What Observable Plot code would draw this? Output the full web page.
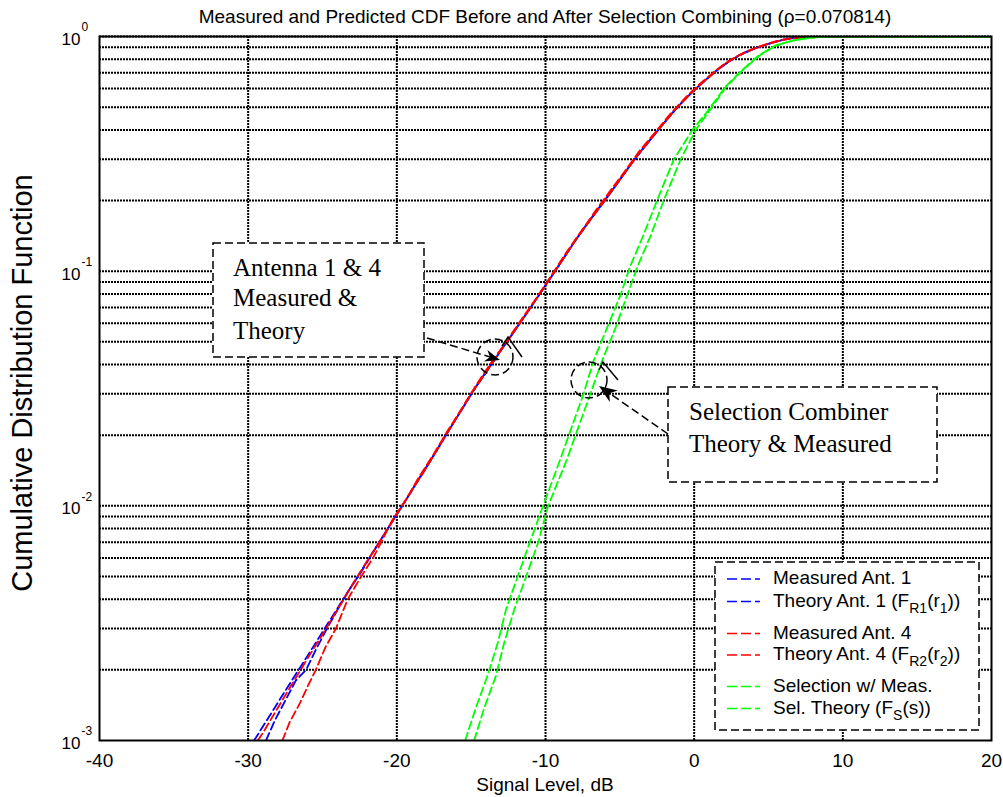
<!DOCTYPE html>
<html><head><meta charset="utf-8">
<script src="https://cdn.jsdelivr.net/npm/d3@7"></script>
<script src="https://cdn.jsdelivr.net/npm/@observablehq/plot@0.6"></script>
<style>body{margin:0;background:#fff} svg{display:block}</style>
</head><body><div id="chart"></div>
<script>
// ---------- text ----------
const titleText = "Measured and Predicted CDF Before and After Selection Combining (\u03C1=0.070814)";
const xLabel = "Signal Level, dB";
const yLabel = "Cumulative Distribution Function";

// ---------- ticks & grid ----------
const xTicks = [-40, -30, -20, -10, 0, 10, 20];
const xGrid = [-30, -20, -10, 0, 10];
const yDecades = [0.001, 0.01, 0.1, 1];
const yDecadeExp = ["-3", "-2", "-1", "0"];
const yGrid = [0.002,0.003,0.004,0.005,0.006,0.007,0.008,0.009,0.01,
               0.02,0.03,0.04,0.05,0.06,0.07,0.08,0.09,0.1,
               0.2,0.3,0.4,0.5,0.6,0.7,0.8,0.9,1];

// ---------- series (signal level dB, CDF) ----------
const meas1_dB  = [-28.8,-28.2,-27.5,-26.8,-26.1,-25.5,-24.7,-24,-23.3,-22.5,-21.5,-20.5,-19.5,-18.5,-17.5,-16.5,-15.5,-14.5,-13.5,-12.5,-11.5,-10.5,-9.5,-8.5,-7.5,-6.5,-5.5,-4.5,-3.5,-2.5,-1.5,-0.5,0.5,1.5,2.5,3.5,4.5,5.5,6.5,7.5,8.5,20];
const meas1_cdf = [0.001,0.00122,0.00148,0.0018,0.002,0.0024,0.003,0.0036,0.0043,0.0051,0.0065,0.0082,0.0103,0.0131,0.0165,0.021,0.0265,0.0335,0.0413,0.051,0.063,0.078,0.097,0.121,0.150,0.183,0.222,0.272,0.33,0.394,0.47,0.55,0.632,0.716,0.795,0.86,0.91,0.952,0.982,0.995,1,1];

const theory1_dB  = [-29.6,-29,-28,-27,-26,-25,-24,-23,-22,-21,-20,-19,-18,-17,-16,-15,-14,-13,-12,-11,-10,-9,-8,-7,-6,-5,-4,-3,-2,-1,0,1,2,3,4,5,6,7,8,9,10,20];
const theory1_cdf = [0.001,0.00115,0.00145,0.00183,0.0023,0.0029,0.00365,0.0046,0.0058,0.0073,0.0092,0.0116,0.0146,0.0186,0.0236,0.030,0.037,0.046,0.0565,0.070,0.087,0.108,0.135,0.165,0.20,0.245,0.30,0.36,0.43,0.51,0.59,0.672,0.76,0.83,0.885,0.93,0.97,0.99,0.998,1,1,1];

const meas4_dB  = [-27.7,-27.2,-26.5,-26,-25.45,-24.8,-24.1,-23.3,-22.4,-21.6,-21,-20.3,-19.4,-18.5,-17.6,-16.6,-15.6,-14.6,-13.6,-12.6,-11.6,-10.6,-9.6,-8.6,-7.6,-6.6,-5.6,-4.6,-3.6,-2.6,-1.6,-0.6,0.4,1.4,2.4,3.4,4.4,5.4,6.4,7.4,8.4,20];
const meas4_cdf = [0.001,0.0012,0.00145,0.0017,0.002,0.0025,0.003,0.004,0.005,0.006,0.0071,0.0087,0.0106,0.0133,0.0163,0.0208,0.0262,0.0332,0.0412,0.0505,0.0625,0.077,0.096,0.120,0.148,0.182,0.222,0.270,0.330,0.392,0.468,0.548,0.630,0.712,0.792,0.858,0.908,0.95,0.98,0.995,1,1];

const theory4_dB  = [-29.35,-29,-28,-27,-26,-25,-24,-23,-22,-21,-20,-19,-18,-17,-16,-15,-14,-13,-12,-11,-10,-9,-8,-7,-6,-5,-4,-3,-2,-1,0,1,2,3,4,5,6,7,8,9,10,20];
const theory4_cdf = [0.001,0.00108,0.00138,0.00176,0.00224,0.00283,0.0036,0.0046,0.0058,0.0073,0.0092,0.0116,0.0146,0.0186,0.0236,0.030,0.037,0.046,0.0565,0.070,0.087,0.108,0.135,0.165,0.20,0.245,0.30,0.36,0.43,0.51,0.59,0.672,0.76,0.83,0.885,0.93,0.97,0.99,0.998,1,1,1];

const selMeas_dB  = [-15.4,-14.7,-13.9,-13.2,-12.65,-11.86,-11.07,-10.16,-9.02,-8.23,-7.44,-6.76,-5.85,-4.94,-4.3,-3.4,-2.5,-1.36,-0.11,0.9,2.05,3.18,4.32,5.45,6.6,7.7,8.9,10,20];
const selMeas_cdf = [0.001,0.00137,0.00189,0.00262,0.00363,0.00502,0.00695,0.010,0.0157,0.0217,0.030,0.0416,0.0575,0.0796,0.105,0.143,0.2,0.3,0.4,0.48,0.605,0.714,0.828,0.915,0.96,0.987,0.998,1,1];

const selTheory_dB  = [-14.8,-14.13,-13.33,-12.77,-12.09,-11.29,-10.5,-9.82,-8.57,-7.78,-6.98,-6.19,-5.28,-4.49,-3.8,-2.9,-2.05,-0.9,0.11,1.1,2.15,3.25,4.4,5.5,6.7,7.8,9,10,20];
const selTheory_cdf = [0.001,0.00137,0.00189,0.00262,0.00363,0.00502,0.00695,0.010,0.0157,0.0217,0.030,0.0416,0.0575,0.0796,0.105,0.143,0.2,0.3,0.4,0.49,0.61,0.718,0.83,0.915,0.962,0.988,0.998,1,1];

// ---------- legend ----------
const seriesNames = ["Measured Ant. 1","Theory Ant. 1","Measured Ant. 4","Theory Ant. 4","Selection w/ Meas.","Sel. Theory"];
const seriesColors = ["#0000ff","#0000ff","#ff0000","#ff0000","#00ff00","#00ff00"];
const legendLabels = [
  [["Measured Ant. 1", 0]],
  [["Theory Ant. 1 (F", 0], ["R1", 1], ["(r", 0], ["1", 1], ["))", 0]],
  [["Measured Ant. 4", 0]],
  [["Theory Ant. 4 (F", 0], ["R2", 1], ["(r", 0], ["2", 1], ["))", 0]],
  [["Selection w/ Meas.", 0]],
  [["Sel. Theory (F", 0], ["S", 1], ["(s))", 0]]
];

const seriesX = [meas1_dB, theory1_dB, meas4_dB, theory4_dB, selMeas_dB, selTheory_dB];
const seriesY = [meas1_cdf, theory1_cdf, meas4_cdf, theory4_cdf, selMeas_cdf, selTheory_cdf];

const tables = seriesX.map((xs, i) => xs.map((x, j) => ({series: seriesNames[i], x, y: seriesY[i][j]})));

const sans = "'Liberation Sans', Arial, Helvetica, sans-serif";
const serif = "'Liberation Serif', 'Times New Roman', serif";

const chart = Plot.plot({
  width: 1003, height: 797,
  marginLeft: 99, marginRight: 12, marginTop: 36, marginBottom: 57,
  style: {fontFamily: sans, background: "#fff", color: "#000"},
  x: {domain: [-40, 20]},
  y: {type: "log", domain: [0.001, 1], axis: null},
  marks: [
    Plot.ruleY(yGrid, {stroke: "#000", strokeWidth: 2, strokeDasharray: "2,1"}),
    Plot.ruleX(xGrid, {stroke: "#000", strokeWidth: 2, strokeDasharray: "2,1"}),
    ...tables.map((t, i) => Plot.line(t, {x: "x", y: "y", stroke: seriesColors[i], strokeWidth: 1.8, strokeDasharray: "8,4", clip: true})),
    Plot.frame({stroke: "#000", strokeWidth: 2}),
    Plot.axisX({ticks: xTicks, tickFormat: d => String(d), tickSize: 0, tickPadding: 13, fontSize: 19, label: null}),
    Plot.text(yDecades, {y: d => d, frameAnchor: "left", dx: -19, dy: 3, text: () => "10", textAnchor: "end", fontSize: 17}),
    Plot.text(yDecades, {y: d => d, frameAnchor: "left", dx: -18, dy: -9, text: (d, i) => yDecadeExp[i], textAnchor: "start", fontSize: 12})
  ]
});
document.getElementById("chart").appendChild(chart);

const svg = d3.select(chart);
svg.append("text").attr("x", 545).attr("y", 22.5).attr("text-anchor", "middle")
  .attr("font-size", 19).attr("font-family", sans).attr("fill", "#000").text(titleText);
svg.append("text").attr("x", 545).attr("y", 791).attr("text-anchor", "middle")
  .attr("font-size", 19).attr("font-family", sans).attr("fill", "#000").text(xLabel);
svg.append("text").attr("transform", "translate(32,383) rotate(-90)").attr("text-anchor", "middle")
  .attr("font-size", 29).attr("font-family", sans).attr("fill", "#000").text(yLabel);

// legend
const lg = svg.append("g");
lg.append("rect").attr("x", 715).attr("y", 562).attr("width", 264).attr("height", 168)
  .attr("fill", "#fff").attr("stroke", "#000").attr("stroke-width", 1.5).attr("stroke-dasharray", "8,4");
const rowBase = [584, 606.5, 638.5, 660, 691.5, 713.5];
legendLabels.forEach((segs, i) => {
  lg.append("line").attr("x1", 727).attr("x2", 760).attr("y1", rowBase[i] - 5).attr("y2", rowBase[i] - 5)
    .attr("stroke", seriesColors[i]).attr("stroke-width", 1.6).attr("stroke-dasharray", "10,4");
  const t = lg.append("text").attr("x", 773).attr("y", rowBase[i]).attr("font-size", 19)
    .attr("font-family", sans).attr("fill", "#000").attr("text-anchor", "start");
  let shifted = false;
  segs.forEach(([s, sub]) => {
    const ts = t.append("tspan").text(s);
    if (sub && !shifted) { ts.attr("dy", 6).attr("font-size", 14); shifted = true; }
    else if (sub) { ts.attr("font-size", 14); }
    else if (!sub && shifted) { ts.attr("dy", -6); shifted = false; }
  });
});

// annotations
const ann = svg.append("g").attr("fill", "none").attr("stroke", "#000").attr("stroke-width", 1.5);
function box(x, y, w, h) {
  ann.append("rect").attr("x", x).attr("y", y).attr("width", w).attr("height", h)
    .attr("fill", "#fff").attr("stroke-dasharray", "8,4");
}
function arrow(x0, y0, x1, y1, L, W) {
  const dx = x1 - x0, dy = y1 - y0, len = Math.hypot(dx, dy);
  const ux = dx / len, uy = dy / len, vx = -uy, vy = ux;
  const bx = x1 - ux * L, by = y1 - uy * L;
  ann.append("line").attr("x1", x0).attr("y1", y0).attr("x2", x1 - ux * L * 0.6).attr("y2", y1 - uy * L * 0.6)
    .attr("stroke-dasharray", "8,4");
  const nx = x1 - ux * L * 0.7, ny = y1 - uy * L * 0.7;
  ann.append("polygon").attr("points", [[x1, y1], [bx + vx * W, by + vy * W], [nx, ny], [bx - vx * W, by - vy * W]].map(p => p.join(",")).join(" "))
    .attr("fill", "#000").attr("stroke", "none");
}
function circ(cx, cy, r) {
  ann.append("circle").attr("cx", cx).attr("cy", cy).attr("r", r).attr("stroke-dasharray", "8,4");
}
function chevron(pts) {
  ann.append("polyline").attr("points", pts.map(p => p.join(",")).join(" "));
}
box(213, 243, 211, 114);
box(668, 387, 269, 95);
circ(495, 357, 18);
chevron([[502, 346], [508, 337], [522, 357]]);
arrow(427, 338, 500, 360, 15, 6);
circ(589, 380, 18);
chevron([[599, 370], [603, 362], [618, 380]]);
arrow(668, 434, 599, 386, 18, 7);

const annText = [
  ["Antenna 1 & 4", 233, 275.5],
  ["Measured &", 233, 306],
  ["Theory", 233, 339],
  ["Selection Combiner", 689, 420],
  ["Theory & Measured", 689, 452]
];
annText.forEach(([s, x, y]) => {
  svg.append("text").attr("x", x).attr("y", y).attr("font-size", 25).attr("font-family", serif)
    .attr("fill", "#000").attr("text-anchor", "start").text(s);
});
</script>
</body></html>
